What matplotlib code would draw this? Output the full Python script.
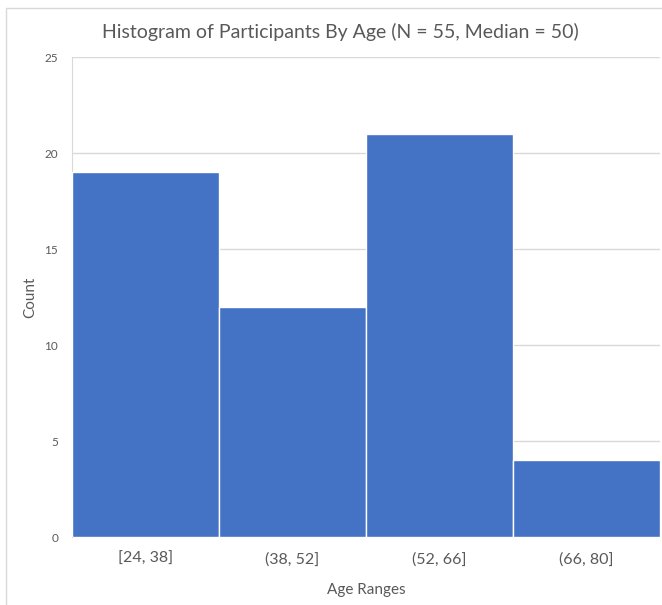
import matplotlib
matplotlib.use("Agg")
import matplotlib.pyplot as plt
from matplotlib.patches import Rectangle

# age bins and participant counts
age_ranges = ["[24, 38]", "(38, 52]", "(52, 66]", "(66, 80]"]
counts = [19, 12, 21, 4]
y_ticks = [0, 5, 10, 15, 20, 25]

plt.rcParams['font.family'] = ['Lato', 'DejaVu Sans']
text_color = '#595959'

fig = plt.figure(figsize=(6.62, 6.05), dpi=100)
ax = fig.add_axes([72 / 662, 1 - 537 / 605, 588 / 662, 480 / 605])

# faint chart border, like the spreadsheet chart frame
fig.patches.append(Rectangle((6 / 662, -0.1), 1.2, 1 - 8 / 605 + 0.1,
                             transform=fig.transFigure, fill=False,
                             edgecolor='#D9D9D9', linewidth=1))

x = range(len(counts))
ax.bar(x, counts, width=1, align='edge', color='#4472C4',
       edgecolor='white', linewidth=1, zorder=3)

ax.set_xlim(0, len(counts))
ax.set_ylim(0, 25)
ax.set_yticks(y_ticks)
ax.set_xticks([i + 0.5 for i in x])
ax.set_xticklabels(age_ranges)

ax.grid(axis='y', color='#D9D9D9', linewidth=1, zorder=0)
for side in ['top', 'right', 'bottom']:
    ax.spines[side].set_visible(False)
ax.spines['left'].set_color('#D9D9D9')
ax.tick_params(axis='both', length=0, colors=text_color)
ax.tick_params(axis='x', labelsize=11.5, pad=11)
ax.tick_params(axis='y', labelsize=8.5, pad=10)

ax.set_xlabel("Age Ranges", fontsize=11, color=text_color, labelpad=12)
ax.set_ylabel("Count", fontsize=11, color=text_color, labelpad=5)

fig.text(340 / 662, 1 - 32 / 605, "Histogram of Participants By Age (N = 55, Median = 50)",
         ha='center', va='center', fontsize=14, color=text_color)

fig.savefig("out.png", dpi=100)
